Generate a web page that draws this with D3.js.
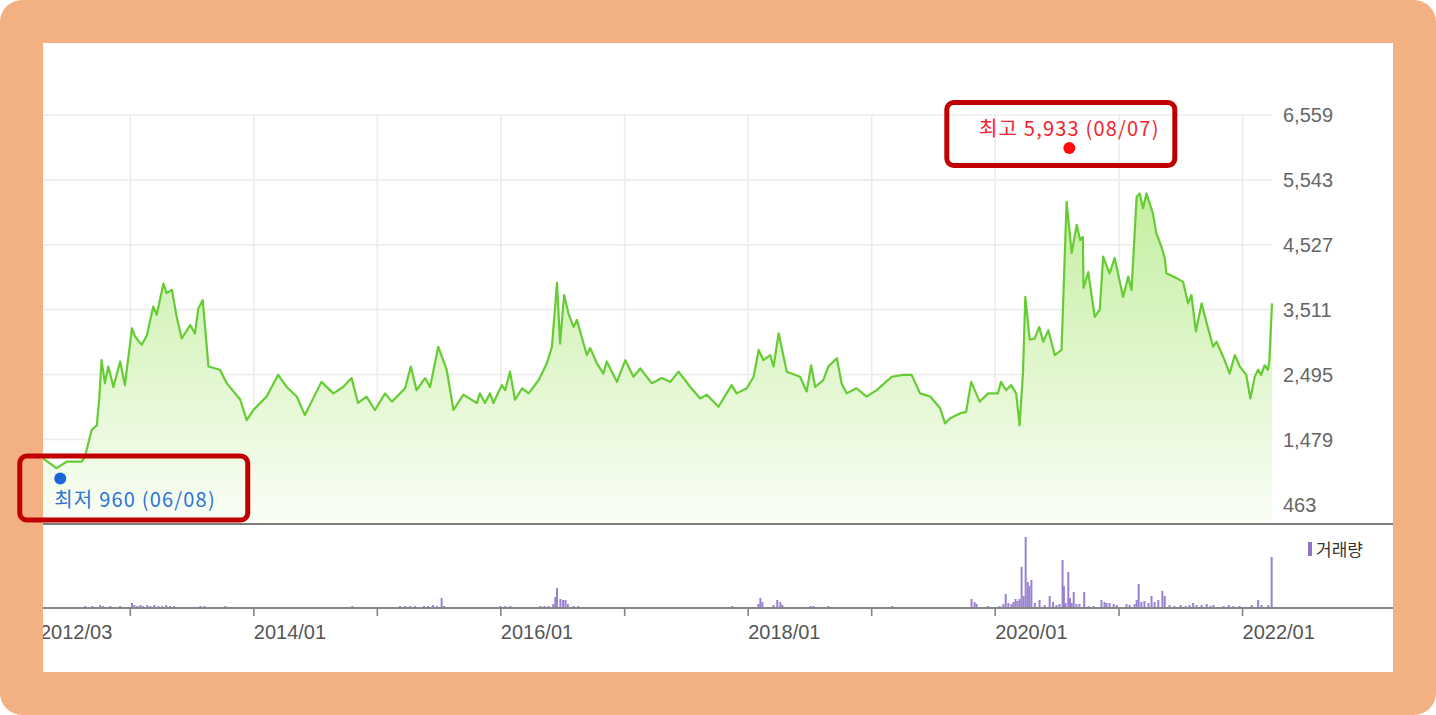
<!DOCTYPE html>
<html><head><meta charset="utf-8">
<script src="https://cdn.jsdelivr.net/npm/d3@7/dist/d3.min.js"></script>
<style>html,body{margin:0;padding:0;background:#fff;overflow:hidden}</style>
</head><body>
<svg id="c" width="1436" height="715"></svg>
<script>
// ---------------- DATA ----------------
const priceDates = ["2012-04-18","2012-05-28","2012-06-27","2012-08-10","2012-08-20","2012-09-09","2012-09-24","2012-10-01","2012-10-08","2012-10-18","2012-10-28","2012-11-12","2012-12-02","2012-12-16",
"2013-01-06","2013-01-15","2013-02-04","2013-02-19","2013-03-10","2013-03-20","2013-04-09","2013-04-18","2013-05-04","2013-05-18","2013-06-02","2013-06-27","2013-07-11","2013-07-21","2013-08-03","2013-08-20","2013-09-23","2013-10-13","2013-11-22","2013-12-11","2013-12-31",
"2014-02-08","2014-03-14","2014-04-08","2014-05-08","2014-06-01","2014-06-16","2014-07-20","2014-08-24","2014-09-22","2014-10-17","2014-11-05","2014-11-30","2014-12-25",
"2015-01-24","2015-02-13","2015-03-24","2015-04-10","2015-04-27","2015-05-22","2015-06-06","2015-06-30","2015-07-25","2015-08-14","2015-09-12","2015-10-22","2015-10-31","2015-11-15","2015-11-30","2015-12-10",
"2016-01-04","2016-01-14","2016-01-28","2016-02-12","2016-03-04","2016-03-23","2016-04-22","2016-05-16","2016-05-31","2016-06-15","2016-06-24","2016-07-06","2016-07-19","2016-08-03","2016-08-13","2016-09-11","2016-09-21","2016-10-11","2016-10-30","2016-11-09","2016-12-09",
"2017-01-03","2017-01-27","2017-02-16","2017-03-22","2017-04-21","2017-05-16","2017-06-09","2017-07-14","2017-08-12","2017-09-01","2017-10-05","2017-11-13","2017-11-28","2017-12-28",
"2018-01-17","2018-02-01","2018-02-15","2018-03-07","2018-03-17","2018-04-01","2018-04-25","2018-06-03","2018-06-23","2018-07-06","2018-07-18","2018-08-11","2018-08-26","2018-09-20","2018-10-04","2018-10-19","2018-11-17","2018-12-17",
"2019-01-16","2019-03-01","2019-04-05","2019-04-29","2019-05-24","2019-06-23","2019-07-22","2019-08-06","2019-08-21","2019-09-20","2019-10-07","2019-10-22","2019-11-16","2019-12-11",
"2020-01-09","2020-01-18","2020-02-02","2020-02-17","2020-03-03","2020-03-13","2020-03-23","2020-03-30","2020-04-12","2020-04-27","2020-05-10","2020-05-22","2020-06-06","2020-06-25","2020-07-15","2020-07-30","2020-08-14","2020-08-29","2020-09-08","2020-09-16","2020-09-18","2020-10-02","2020-10-21","2020-11-05","2020-11-15","2020-12-04","2020-12-19",
"2021-01-13","2021-01-28","2021-02-07","2021-02-22","2021-03-03","2021-03-13","2021-03-23","2021-04-11","2021-04-21","2021-05-06","2021-05-16","2021-05-21","2021-06-10","2021-07-09","2021-07-24","2021-08-03","2021-08-16","2021-09-02","2021-09-17","2021-10-06","2021-10-16","2021-11-05","2021-11-24","2021-12-09","2021-12-24",
"2022-01-12","2022-01-24","2022-02-06","2022-02-16","2022-02-25","2022-03-07","2022-03-17","2022-03-21","2022-03-29"];
const priceValues = [1180,1030,1130,1130,1210,1630,1700,2100,2720,2360,2620,2300,2700,2330,
3220,3090,2960,3110,3560,3430,3920,3770,3820,3400,3060,3270,3140,3530,3660,2620,2570,2360,2100,1780,1940,
2150,2490,2300,2150,1860,2020,2380,2200,2300,2440,2050,2150,1940,
2200,2070,2280,2620,2250,2440,2300,2930,2570,1940,2180,2050,2200,2050,2200,2050,
2330,2250,2540,2100,2280,2200,2410,2670,2930,3930,2980,3740,3450,3240,3350,2800,2910,2670,2510,2700,2380,
2720,2460,2590,2360,2440,2380,2540,2300,2120,2180,1990,2330,2200,2280,
2460,2880,2720,2800,2620,3140,2540,2460,2230,2640,2300,2410,2620,2750,2360,2200,2280,2150,
2250,2460,2490,2490,2200,2150,1970,1730,1810,1890,1910,2380,2070,2200,
2200,2380,2250,2330,2200,1700,2510,3710,3040,3060,3240,3010,3190,2800,2880,5200,4400,4840,4600,4650,3850,4100,3400,3510,4340,4080,4320,
3710,4030,3820,5280,5330,5100,5330,5020,4710,4500,4320,4080,4030,3950,3610,3740,3170,3610,3300,2930,3010,2770,2510,2800,2620,
2490,2120,2460,2570,2490,2640,2570,2700,3610];

const volumeDates = ["2012-08-21","2012-08-30","2012-09-11","2012-10-04","2012-10-13","2012-11-03","2012-12-02",
"2013-01-06","2013-01-13","2013-01-22","2013-01-31","2013-02-08","2013-02-20","2013-03-01","2013-03-13","2013-03-25","2013-04-06","2013-04-17","2013-04-29","2013-05-11","2013-05-20","2013-07-27","2013-08-08","2013-08-17","2013-10-09",
"2014-02-10","2014-03-12","2014-10-19",
"2015-03-09","2015-03-24","2015-04-08","2015-04-22","2015-05-19","2015-05-31","2015-06-15","2015-06-26","2015-07-10","2015-07-17","2015-12-31",
"2016-01-14","2016-01-29","2016-04-27","2016-05-09","2016-05-21","2016-06-04","2016-06-10","2016-06-15","2016-06-25","2016-07-03","2016-07-10","2016-07-17","2016-08-03","2016-08-17",
"2017-11-15","2018-01-31","2018-02-06","2018-02-12","2018-03-17","2018-03-28","2018-04-06","2018-04-12","2018-07-04","2018-07-13","2018-08-26","2019-03-03",
"2019-10-23","2019-11-01","2019-11-07","2019-12-11",
"2020-01-14","2020-01-25","2020-02-01","2020-02-09","2020-02-18","2020-02-24","2020-03-01","2020-03-07","2020-03-13","2020-03-19","2020-03-25","2020-03-31","2020-04-06","2020-04-11","2020-04-17","2020-04-27","2020-05-11","2020-05-26","2020-06-10","2020-06-20","2020-06-30","2020-07-09","2020-07-18","2020-07-22","2020-07-27","2020-08-04","2020-08-09","2020-08-14","2020-08-20","2020-08-28","2020-09-06","2020-09-20","2020-10-03","2020-10-18","2020-11-10","2020-11-19","2020-11-25","2020-12-04","2020-12-16","2020-12-25",
"2021-01-23","2021-02-01","2021-02-16","2021-02-22","2021-02-28","2021-03-08","2021-03-17","2021-03-29","2021-04-07","2021-04-16","2021-04-27","2021-05-09","2021-05-16","2021-05-30","2021-06-14","2021-07-02","2021-07-17","2021-07-28","2021-08-08","2021-08-18","2021-09-02","2021-09-17","2021-09-28","2021-10-07","2021-11-06","2021-11-21","2021-12-05","2021-12-23",
"2022-01-28","2022-02-16","2022-02-26","2022-03-18","2022-03-28"];
const volumeValues = [200,100,200,300,200,200,200,
500,300,200,300,200,300,200,300,200,200,300,200,200,100,200,200,100,200,
100,100,200,
200,200,200,200,200,200,300,200,1000,200,200,
200,200,200,200,200,400,1100,2000,900,800,800,400,200,200,
200,400,1000,600,300,800,600,300,200,200,200,200,
900,600,400,200,
200,400,1400,500,400,600,900,700,900,4100,1200,7100,2600,2200,2800,500,800,300,1200,600,300,400,4800,2200,500,3600,1000,500,1600,400,400,1600,200,200,800,600,500,500,400,300,
400,300,400,800,2400,600,700,500,1200,600,800,1700,1200,300,200,300,200,300,500,300,300,400,200,300,200,300,200,200,
300,800,300,300,5100];

const yTicks = [463, 1479, 2495, 3511, 4527, 5543, 6559];
const gridDates = ["2013-01-01","2014-01-01","2015-01-01","2016-01-01","2017-01-01","2018-01-01","2019-01-01","2020-01-01","2021-01-01","2022-01-01"];
const xLabels = ["2012/03","2014/01","2016/01","2018/01","2020/01","2022/01"];
const xLabelDates = ["2012-04-18","2014-01-01","2016-01-01","2018-01-01","2020-01-01","2022-01-01"];
const highMark = { name: "최고", value: 5933, date: "2020-08-07", day: "(08/07)" };
const lowMark  = { name: "최저", value: 960,  date: "2012-06-08", day: "(06/08)" };
const legendLabel = "거래량";

// ---------------- LAYOUT ----------------
const W = 1436, H = 715;
const panel = { x: 43, y: 43, w: 1350, h: 629 };
const plotL = 43, plotR = 1272;
const priceBottom = 524, volBase = 608, volTop = 537;
const parse = d3.timeParse("%Y-%m-%d");
const fmt = d3.format(",");

const price = priceDates.map((d, i) => ({ date: parse(d), value: priceValues[i] }));
const volume = volumeDates.map((d, i) => ({ date: parse(d), value: volumeValues[i] }));

const x = d3.scaleTime().domain([price[0].date, price[price.length - 1].date]).range([plotL, plotR]);
const y = d3.scaleLinear().domain([463, 6559]).range([504.3, 115]);
const yv = d3.scaleLinear().domain([0, 7100]).range([volBase, volTop]);

const svg = d3.select("#c");
svg.append("rect").attr("x", 0).attr("y", 0).attr("width", W).attr("height", H).attr("rx", 22).attr("fill", "#f3b083");
svg.append("rect").attr("x", panel.x).attr("y", panel.y).attr("width", panel.w).attr("height", panel.h).attr("fill", "#fff");

const defs = svg.append("defs");
defs.append("clipPath").attr("id", "pc").append("rect")
  .attr("x", panel.x).attr("y", panel.y).attr("width", panel.w).attr("height", panel.h);
const grad = defs.append("linearGradient").attr("id", "ag").attr("gradientUnits", "userSpaceOnUse")
  .attr("x1", 0).attr("x2", 0).attr("y1", y(5400)).attr("y2", priceBottom);
grad.append("stop").attr("offset", "0%").attr("stop-color", "#c3ee9f");
grad.append("stop").attr("offset", "100%").attr("stop-color", "#fafef6");

const g = svg.append("g").attr("clip-path", "url(#pc)");

// grid
g.append("g").selectAll("line").data(yTicks).join("line")
  .attr("x1", plotL).attr("x2", plotR).attr("y1", d => y(d)).attr("y2", d => y(d))
  .attr("stroke", "#ececec").attr("stroke-width", 1.6);
g.append("g").selectAll("line").data(gridDates).join("line")
  .attr("x1", d => x(parse(d))).attr("x2", d => x(parse(d)))
  .attr("y1", y(6559)).attr("y2", priceBottom)
  .attr("stroke", "#ececec").attr("stroke-width", 1.6);

// area + line
g.append("path").datum(price)
  .attr("d", d3.area().x(d => x(d.date)).y0(priceBottom).y1(d => y(d.value)))
  .attr("fill", "url(#ag)");
g.append("path").datum(price)
  .attr("d", d3.line().x(d => x(d.date)).y(d => y(d.value)))
  .attr("fill", "none").attr("stroke", "#66cc33").attr("stroke-width", 2.2).attr("stroke-linejoin", "round");

// separators
g.append("line").attr("x1", panel.x).attr("x2", panel.x + panel.w).attr("y1", priceBottom).attr("y2", priceBottom)
  .attr("stroke", "#7d7d7d").attr("stroke-width", 2);

// volume bars
g.append("g").selectAll("rect").data(volume).join("rect")
  .attr("x", d => x(d.date) - 1).attr("width", 2)
  .attr("y", d => yv(d.value)).attr("height", d => volBase - yv(d.value))
  .attr("fill", "#9a80d2");
g.append("line").attr("x1", panel.x).attr("x2", panel.x + panel.w).attr("y1", volBase).attr("y2", volBase)
  .attr("stroke", "#858585").attr("stroke-width", 2);
g.append("g").selectAll("line").data(gridDates).join("line")
  .attr("x1", d => x(parse(d))).attr("x2", d => x(parse(d)))
  .attr("y1", volBase).attr("y2", volBase + 8)
  .attr("stroke", "#858585").attr("stroke-width", 1.6);

// x labels
g.append("g").selectAll("text").data(xLabels).join("text")
  .attr("x", (d, i) => x(parse(xLabelDates[i])) - (i === 0 ? 3 : 0))
  .attr("y", 639)
  .attr("font-family", "Liberation Sans, Arial, sans-serif").attr("font-size", 20).attr("fill", "#555")
  .text(d => d);

// y labels
g.append("g").selectAll("text").data(yTicks).join("text")
  .attr("x", 1283).attr("y", d => y(d)).attr("dy", "0.36em")
  .attr("font-family", "Liberation Sans, Arial, sans-serif").attr("font-size", 20).attr("fill", "#666")
  .text(d => fmt(d));

// legend
g.append("rect").attr("x", 1308).attr("y", 542).attr("width", 4).attr("height", 14).attr("fill", "#8f74c9");
g.append("text").attr("x", 1316).attr("y", 556)
  .attr("font-family", "Noto Sans CJK KR, sans-serif").attr("font-size", 17).attr("fill", "#333")
  .text(legendLabel);

// annotations
const hx = x(parse(highMark.date)), hy = y(highMark.value) - 7;
const lx = x(parse(lowMark.date)), ly = y(lowMark.value) + 6;
svg.append("circle").attr("cx", hx).attr("cy", hy).attr("r", 6).attr("fill", "#ff0d0d");
svg.append("text").attr("x", hx).attr("y", hy - 12).attr("text-anchor", "middle")
  .attr("font-family", "Noto Sans CJK KR, sans-serif").attr("font-size", 20).attr("letter-spacing", 1.2).attr("fill", "#f5222d")
  .text(`${highMark.name} ${fmt(highMark.value)} ${highMark.day}`);
svg.append("circle").attr("cx", lx).attr("cy", ly).attr("r", 6).attr("fill", "#1a66d9");
svg.append("text").attr("x", lx - 6).attr("y", ly + 28)
  .attr("font-family", "Noto Sans CJK KR, sans-serif").attr("font-size", 20).attr("letter-spacing", 1.2).attr("fill", "#2b74d6")
  .text(`${lowMark.name} ${fmt(lowMark.value)} ${lowMark.day}`);

// highlight boxes
svg.append("rect").attr("x", hx - 122.5).attr("y", hy - 45.5).attr("width", 228).attr("height", 63)
  .attr("rx", 7).attr("fill", "none").attr("stroke", "#c00000").attr("stroke-width", 5);
svg.append("rect").attr("x", lx - 40.5).attr("y", ly - 22.5).attr("width", 228).attr("height", 64)
  .attr("rx", 7).attr("fill", "none").attr("stroke", "#c00000").attr("stroke-width", 5);
</script>
</body></html>
